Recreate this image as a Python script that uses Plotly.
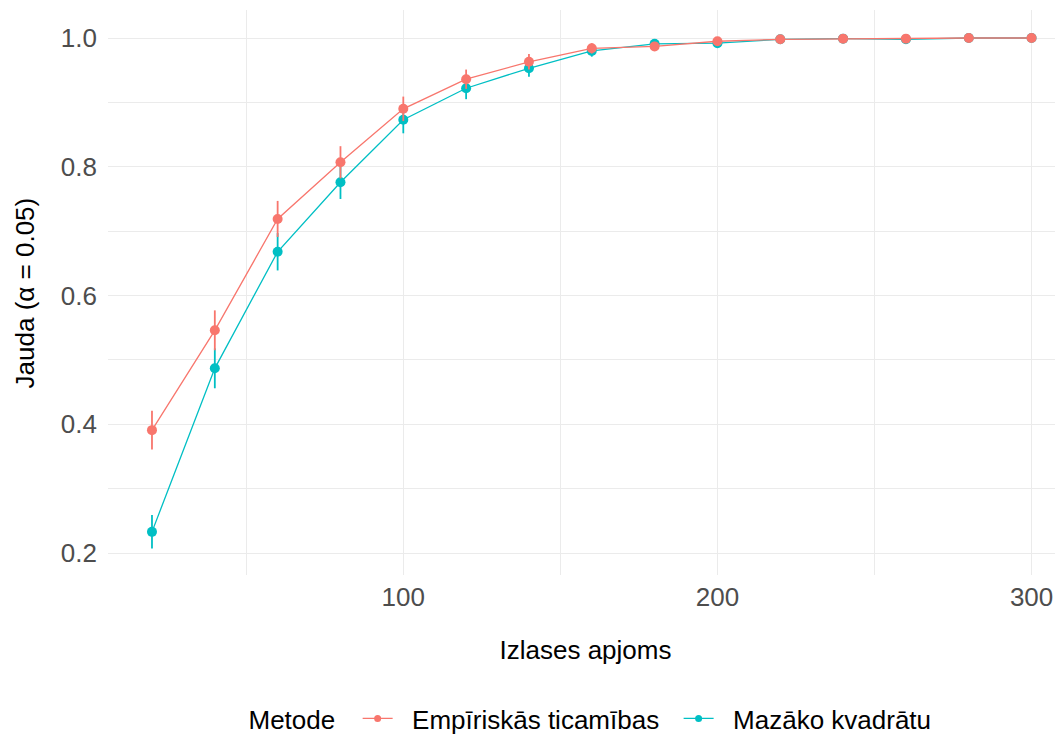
import plotly.graph_objects as go

sample_size = [20, 40, 60, 80, 100, 120, 140, 160, 180, 200, 220, 240, 260, 280, 300]

power_emp = [0.391, 0.546, 0.719, 0.807, 0.890, 0.936, 0.963, 0.984, 0.987, 0.995, 0.998, 0.999, 0.999, 1.000, 1.000]
err_emp = [0.030, 0.031, 0.028, 0.025, 0.019, 0.015, 0.012, 0.008, 0.007, 0.004, 0.003, 0.002, 0.002, 0.001, 0.000]

power_ls = [0.233, 0.487, 0.668, 0.776, 0.873, 0.922, 0.953, 0.980, 0.991, 0.992, 0.998, 0.999, 0.998, 1.000, 1.000]
err_ls = [0.026, 0.031, 0.029, 0.026, 0.021, 0.017, 0.013, 0.009, 0.006, 0.005, 0.003, 0.002, 0.003, 0.001, 0.000]

names = ["Empīriskās ticamības", "Mazāko kvadrātu"]
colors = ["#F8766D", "#00BFC4"]
y_title = "Jauda (α = 0.05)"
x_title = "Izlases apjoms"

NB = "\u00a0"
fig = go.Figure()
series = [(power_emp, err_emp), (power_ls, err_ls)]
for i in [1, 0]:
    vals, errs = series[i]
    fig.add_trace(go.Scatter(
        x=sample_size, y=vals, name=names[i], mode="lines+markers",
        line=dict(color=colors[i], width=1.3),
        marker=dict(color=colors[i], size=10, symbol="circle"),
        error_y=dict(type="data", array=errs, visible=True, color=colors[i],
                     thickness=1.8, width=0),
        showlegend=False,
    ))
# legend entries (smaller key markers as in the reference)
for i in [0, 1]:
    fig.add_trace(go.Scatter(
        x=[None], y=[None], name=NB * 2 + names[i] + NB * 2, mode="lines+markers",
        line=dict(color=colors[i], width=1.3),
        marker=dict(color=colors[i], size=7, symbol="circle"),
        showlegend=True,
    ))

fig.update_layout(
    width=1055, height=727,
    margin=dict(l=100, r=0, t=2, b=160, autoexpand=False),
    plot_bgcolor="white", paper_bgcolor="white",
    font=dict(family="Liberation Sans, Arial, sans-serif", size=26, color="#000000"),
    showlegend=True,
    legend=dict(orientation="h", x=0.145, xanchor="left", y=-0.254, yanchor="middle",
                title=dict(text="Metode" + NB * 2, font=dict(size=26, color="#000000")),
                font=dict(size=26, color="#000000"), traceorder="normal",
                itemwidth=30),
    annotations=[dict(text=y_title, textangle=-90, xref="paper", yref="paper",
                      x=-0.087, y=0.5, xanchor="center", yanchor="middle",
                      showarrow=False, font=dict(size=26, color="#000000"))],
)
fig.update_xaxes(
    range=[6, 310], tickvals=[100, 200, 300], ticktext=["100", "200", "300"],
    showgrid=True, gridcolor="#EBEBEB", gridwidth=1.2,
    minor=dict(tickvals=[50, 150, 250], showgrid=True, gridcolor="#EBEBEB", gridwidth=0.6),
    zeroline=False, showline=False, ticks="", automargin=False,
    ticklabelstandoff=4,
    tickfont=dict(size=26, color="#4D4D4D"),
    title=dict(text=x_title, font=dict(size=26, color="#000000"), standoff=29),
)
fig.update_yaxes(
    range=[0.166, 1.0435], tickvals=[0.2, 0.4, 0.6, 0.8, 1.0],
    ticktext=["0.2", "0.4", "0.6", "0.8", "1.0"],
    showgrid=True, gridcolor="#EBEBEB", gridwidth=1.2,
    minor=dict(tickvals=[0.3, 0.5, 0.7, 0.9], showgrid=True, gridcolor="#EBEBEB", gridwidth=0.6),
    zeroline=False, showline=False, ticks="", automargin=False,
    ticklabelstandoff=10,
    tickfont=dict(size=26, color="#4D4D4D"),
)

fig.write_html("out.html")
